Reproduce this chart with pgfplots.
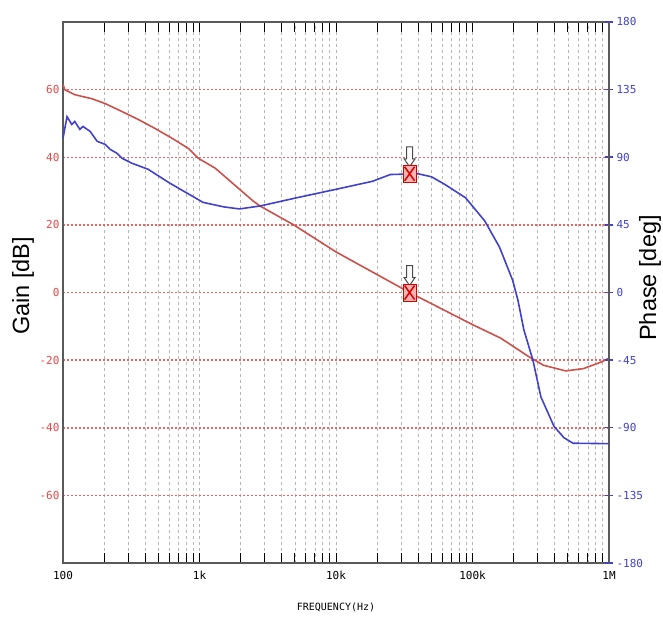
\documentclass[border=0pt]{standalone}
\usepackage{pgfplots}
\pgfplotsset{compat=1.18}
\usepackage{fontspec}
\setmainfont{Liberation Sans}
\newfontfamily\tickfont{DejaVu Sans Mono}

\definecolor{gaincol}{RGB}{205,80,75}
\definecolor{phasecol}{RGB}{65,65,205}
\definecolor{gridred}{RGB}{235,70,70}
\definecolor{gridgray}{RGB}{150,150,150}
\definecolor{framecol}{RGB}{90,90,90}

% cursor: hollow arrow above a red box with a cross
\pgfdeclareplotmark{cursor}{%
  \pgfsetlinewidth{1pt}%
  \pgfpathmoveto{\pgfpoint{-3pt}{27pt}}%
  \pgfpathlineto{\pgfpoint{3pt}{27pt}}%
  \pgfpathlineto{\pgfpoint{3pt}{15pt}}%
  \pgfpathlineto{\pgfpoint{5.5pt}{15pt}}%
  \pgfpathlineto{\pgfpoint{0pt}{7pt}}%
  \pgfpathlineto{\pgfpoint{-5.5pt}{15pt}}%
  \pgfpathlineto{\pgfpoint{-3pt}{15pt}}%
  \pgfpathclose
  \pgfsetfillcolor{white}\pgfsetstrokecolor{black!70}%
  \pgfusepath{fill,stroke}%
  \pgfpathrectangle{\pgfpoint{-6.5pt}{-8.5pt}}{\pgfpoint{13pt}{17pt}}%
  \pgfsetfillcolor{red!30}\pgfsetstrokecolor{red!85!black}%
  \pgfusepath{fill,stroke}%
  \pgfpathmoveto{\pgfpoint{-5pt}{-7pt}}\pgfpathlineto{\pgfpoint{5pt}{7pt}}%
  \pgfpathmoveto{\pgfpoint{-5pt}{7pt}}\pgfpathlineto{\pgfpoint{5pt}{-7pt}}%
  \pgfsetlinewidth{1.5pt}%
  \pgfusepath{stroke}%
}

\pgfplotstableread{
f      g
100    61.5
103    60
122    58.5
163    57.3
203    55.9
271    53.5
355    51.2
473    48.5
630    45.6
829    42.6
979    39.7
1300   36.8
2480   27
2770   25.6
4900   20
10000  12
34600  0
100000 -9.5
161000 -13.5
259000 -19
330000 -21.5
483000 -23.2
650000 -22.5
873000 -20.6
1000000 -19.4
}\gaindata

\pgfplotstableread{
f      p
100    102.6
107    117
116    111.8
122    113.8
133    108.5
140    110.5
158    107.2
178    100.6
203    98.6
221    95.3
249    92.6
271    89.3
320    86
420    82
600    73
1060   60
1500   57
1960   55.6
2790   57.6
5130   63
10400  69
18500  74
25000  78.5
40000  79
50000  77
62500  72
89000  63
123000 47.6
158000 30
197000 8
215000 -5
238000 -25
277000 -45
317000 -69.5
395000 -89
467000 -96.6
545000 -100.3
1000000 -100.6
}\phasedata

\begin{document}
\begin{tikzpicture}[x=1pt,y=1pt]
\begin{axis}[
  at={(63pt,55pt)}, anchor=south west,
  scale only axis, width=546pt, height=541pt,
  xmode=log, xmin=100, xmax=1e6, ymin=-80, ymax=80,
  log basis x=10,
  xtick={100,1000,10000,100000,1000000},
  xticklabels={100,1k,10k,100k,1M},
  minor xtick={200,300,400,500,600,700,800,900,
    2000,3000,4000,5000,6000,7000,8000,9000,
    20000,30000,40000,50000,60000,70000,80000,90000,
    200000,300000,400000,500000,600000,700000,800000,900000},
  ytick={-60,-40,-20,0,20,40,60},
  yticklabels={-60,-40,-20,0,20,40,60},
  tick align=inside,
  major tick length=10pt, minor tick length=10pt,
  ytick style={draw=none},
  xtick style={black, line width=1pt},
  axis line style={framecol, line width=1.5pt},
  xmajorgrids, xminorgrids, ymajorgrids,
  major x grid style={gridgray!70, dash pattern=on 3pt off 3pt, line width=0.6pt},
  minor x grid style={gridgray!70, dash pattern=on 3pt off 3pt, line width=0.6pt},
  major y grid style={gridred!85, dash pattern=on 2pt off 2pt, line width=1.5pt},
  xticklabel style={font=\tickfont\fontsize{11}{12}\selectfont, black, yshift=-5pt},
  yticklabel style={font=\tickfont\fontsize{11}{12}\selectfont, gridred},
  xlabel={FREQUENCY(Hz)},
  xlabel style={font=\tickfont\fontsize{10}{12}\selectfont, at={(axis description cs:0.5,0)}, yshift=-36pt},
  clip=false,
]
\addplot[gaincol, line width=1.6pt, mark=none] table[x=f,y=g] {\gaindata};
\addplot[only marks, mark=cursor] coordinates {(34600,0)};
\end{axis}
\begin{axis}[
  at={(63pt,55pt)}, anchor=south west,
  scale only axis, width=546pt, height=541pt,
  xmode=log, xmin=100, xmax=1e6, ymin=-180, ymax=180,
  axis x line=none, axis y line*=right,
  ytick={-180,-135,-90,-45,0,45,90,135,180},
  yticklabels={-180,-135,-90,-45,0,45,90,135,180},
  tick align=center, major tick length=8pt,
  ytick style={phasecol, line width=1.5pt},
  axis line style={framecol, line width=1.5pt},
  yticklabel style={font=\tickfont\fontsize{11}{12}\selectfont, phasecol},
  clip=false,
]
\addplot[phasecol, line width=1.6pt, mark=none] table[x=f,y=p] {\phasedata};
\addplot[only marks, mark=cursor] coordinates {(34600,79)};
\end{axis}
\node[rotate=90, anchor=base, font=\fontsize{23.5}{26}\selectfont] at (29pt,332pt) {Gain [dB]};
\node[rotate=90, anchor=base, font=\fontsize{23.5}{26}\selectfont] at (656pt,340pt) {Phase [deg]};
\pgfresetboundingbox
\path[use as bounding box] (0,0) rectangle (663pt,618pt);
\end{tikzpicture}
\end{document}
